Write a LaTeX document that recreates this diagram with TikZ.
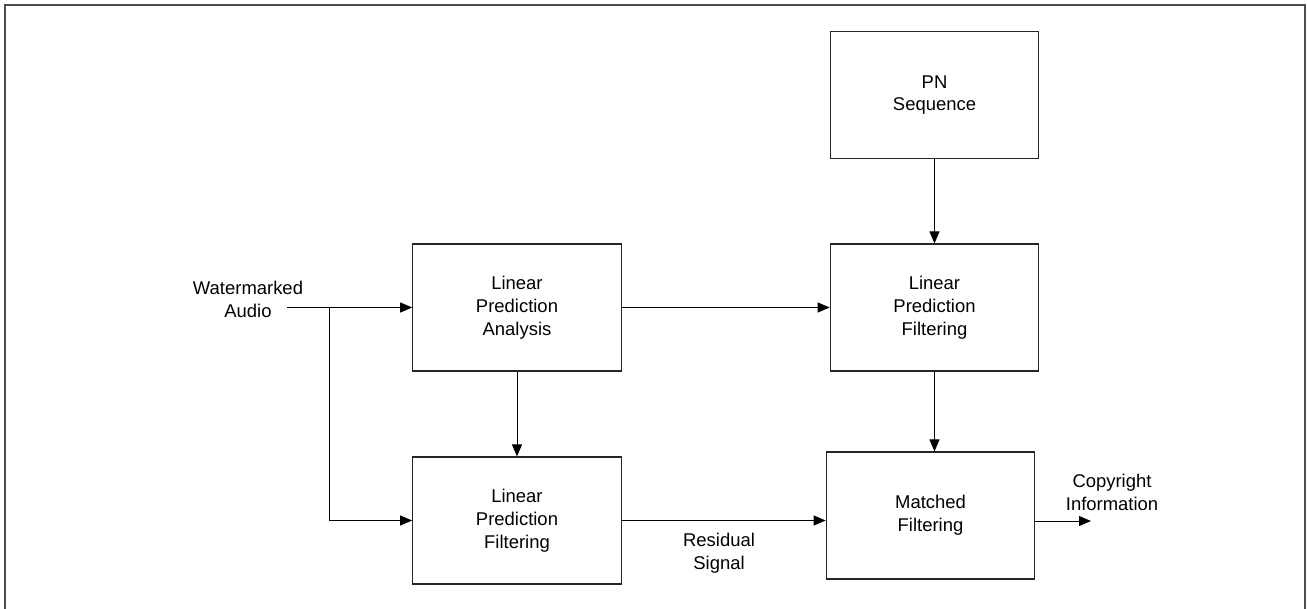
\documentclass[tikz,border=0pt]{standalone}
\usepackage{fontspec}
\setmainfont{Liberation Sans}
\usetikzlibrary{arrows.meta}
\begin{document}
\fontsize{10.5pt}{13pt}\selectfont
\begin{tikzpicture}[x=0.02cm,y=-0.02cm,
    block/.style={draw=black!85,line width=0.7pt,minimum width=4.17cm,minimum height=2.54cm,align=center,inner sep=0pt},
    lbl/.style={align=center,inner sep=0pt},
    >={Triangle[length=2.4mm,width=2mm]},line width=0.55pt]
        \useasboundingbox(0,0)rectangle(1307,608);
        \draw[black!70,line width=1.1pt](5,612)--(5,5)--(1305,5)--(1305,612);
        \node[block](1)at(934.5,95){PN\\Sequence};
        \node[block](2)at(517,307.5){Linear\\Prediction\\Analysis};
        \node[block](3)at(934.5,307.5){Linear\\Prediction\\Filtering};
        \node[block](4)at(517,520.5){Linear\\Prediction\\Filtering};
        \node[block](5)at(930.5,515.5){Matched\\Filtering};
        \node[lbl](6)at(248,299){Watermarked\\Audio};
        \node[lbl](7)at(719,553){Residual\\Signal};
        \node[lbl](8)at(1112,492){Copyright\\Information};
        \coordinate(in)at(287,307.5);
        \coordinate(br)at(329,307.5);
        \coordinate(out)at(1091,521);
        \draw[->](in)--(2);
        \draw[->](br)|-(4);
        \draw[->](2)--(3);
        \draw[->](1)--(3);
        \draw[->](2)--(4);
        \draw[->](3.south)--(3.south|-5.north);
        \draw[->](4.east)--(4.east-|5.west);
        \draw[->](5.east|-out)--(out);
    \end{tikzpicture}
\end{document}
